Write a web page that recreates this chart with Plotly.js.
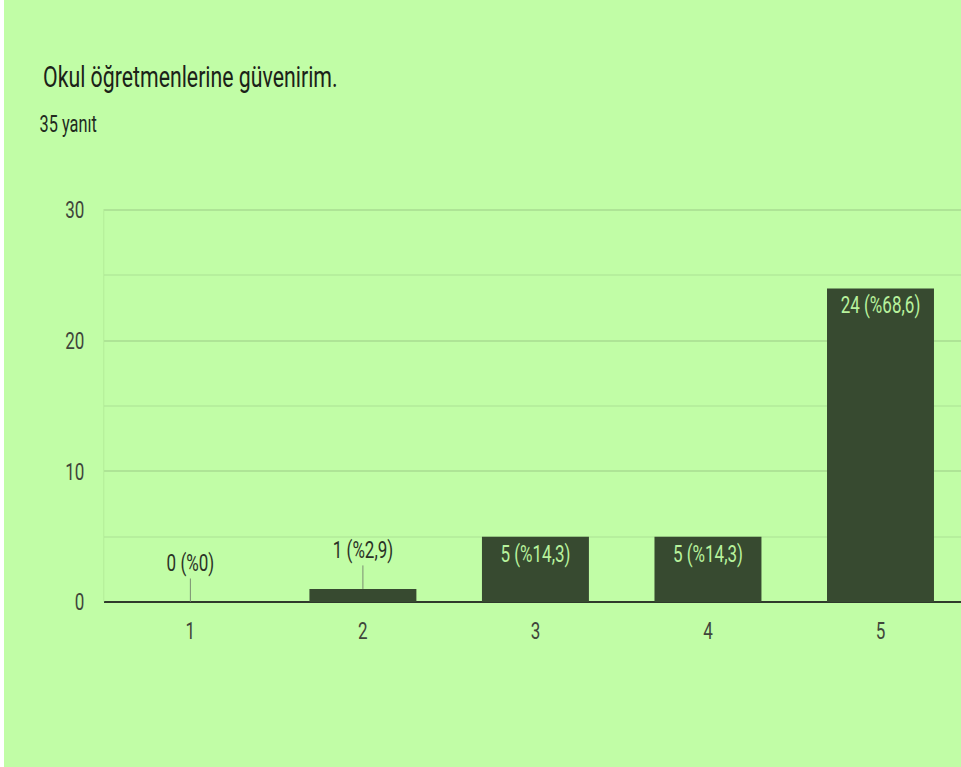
<!DOCTYPE html>
<html>
<head>
<meta charset="utf-8">
<script src="https://cdn.plot.ly/plotly-3.0.1.min.js"></script>
<style>
html,body{margin:0;padding:0;background:#ffffff;overflow:hidden;width:961px;height:767px;}
#wrap{position:absolute;left:4px;top:0;transform-origin:0 0;}
</style>
</head>
<body>
<div id="wrap"><div id="chart"></div></div>
<script>
const categories = ['1', '2', '3', '4', '5'];
const counts = [0, 1, 5, 5, 24];
const labels = ['0 (%0)', '1 (%2,9)', '5 (%14,3)', '5 (%14,3)', '24 (%68,6)'];
const titleText = 'Okul öğretmenlerine güvenirim.';
const subtitleText = '35 yanıt';
const yTicks = [0, 10, 20, 30];

const S = 0.71;            // horizontal squeeze of the reference picture
const L = Math.round(100 / S);
const W = Math.round(963 / S);
document.getElementById('wrap').style.transform = 'scaleX(' + S + ')';

const bg = '#c1fda6';
const insideIdx = counts.map((v) => v >= 5);

const trace = {
  type: 'bar',
  x: categories,
  y: counts,
  text: labels.map((t, i) => insideIdx[i] ? t : ''),
  textposition: 'inside',
  insidetextanchor: 'end',
  textangle: 0,
  constraintext: 'none',
  insidetextfont: {family: 'Roboto', size: 24, color: '#b7f29d'},
  marker: {color: '#374a30', line: {width: 0}},
  hoverinfo: 'skip'
};

const annotations = [];
counts.forEach((v, i) => {
  if (!insideIdx[i]) {
    annotations.push({
      x: i, y: v, xref: 'x', yref: 'y',
      text: labels[i], showarrow: true, arrowhead: 0, arrowwidth: 1,
      arrowcolor: '#6f7a68', ax: 0, ay: -39, standoff: 0,
      font: {family: 'Roboto', size: 24, color: '#2b3326'}
    });
  }
});
annotations.push({
  xref: 'paper', yref: 'paper', x: (34 / S - L) / (W - L), y: 1 + (209 - 124) / 393,
  xanchor: 'left', yanchor: 'middle', showarrow: false,
  text: subtitleText, font: {family: 'Roboto', size: 23, color: '#222a1e'}
});

const layout = {
  width: W, height: 767,
  paper_bgcolor: bg, plot_bgcolor: bg,
  margin: {l: L, r: 0, t: 209, b: 165, pad: 0},
  title: {
    text: titleText, xref: 'container', yref: 'container',
    x: 39 / S / W, y: 1 - 77 / 767, xanchor: 'left', yanchor: 'middle',
    font: {family: 'Roboto', size: 30, color: '#1b2218'}
  },
  bargap: 0.38,
  showlegend: false,
  xaxis: {
    type: 'category', range: [-0.5, 4.5],
    showgrid: false, zeroline: false,
    showline: false, ticks: '',
    ticklabelstandoff: 12,
    tickfont: {family: 'Roboto', size: 24, color: '#3f463b'}
  },
  yaxis: {
    range: [0, 30.08], tickvals: yTicks, ticktext: yTicks.map(String),
    showgrid: true, gridcolor: '#aee496', gridwidth: 2,
    minor: {tickvals: [5, 15, 25], showgrid: true, gridcolor: '#b6ef9d', gridwidth: 2, ticks: ''},
    zeroline: true, zerolinecolor: '#2f3a2b', zerolinewidth: 2,
    showline: true, linecolor: '#b2ea98', linewidth: 1,
    ticks: '', ticklabelstandoff: 22,
    tickfont: {family: 'Roboto', size: 24, color: '#3f463b'}
  },
  annotations: annotations
};

Plotly.newPlot('chart', [trace], layout, {displayModeBar: false, staticPlot: true});
</script>
</body>
</html>
